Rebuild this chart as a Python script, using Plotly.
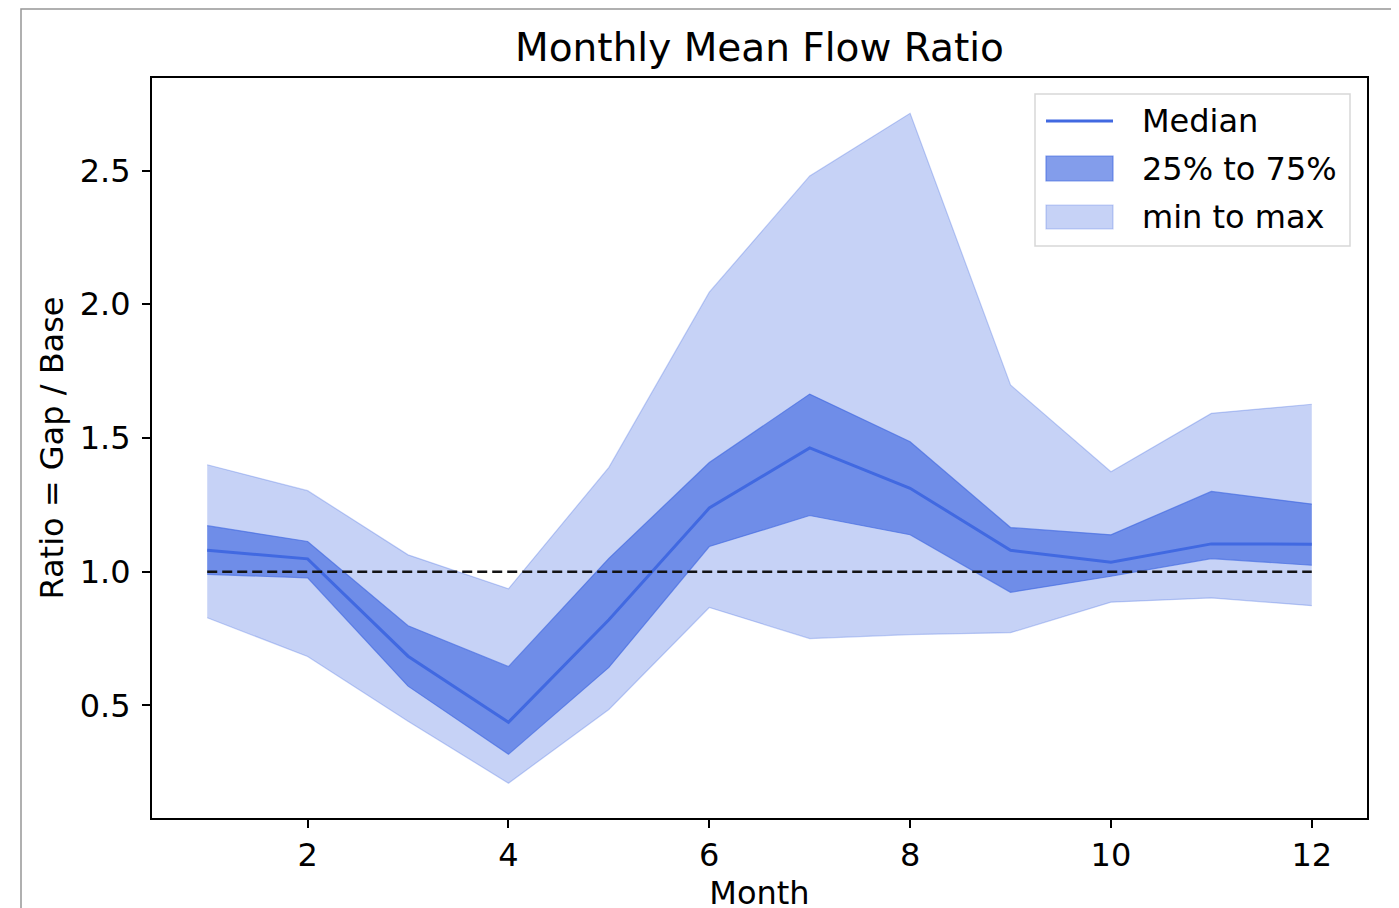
import plotly.graph_objects as go

months = [1, 2, 3, 4, 5, 6, 7, 8, 9, 10, 11, 12]
median = [1.08, 1.048, 0.684, 0.437, 0.82, 1.238, 1.463, 1.312, 1.08, 1.035, 1.104, 1.103]
q25 = [0.99, 0.977, 0.572, 0.317, 0.642, 1.094, 1.21, 1.138, 0.923, 0.983, 1.049, 1.024]
q75 = [1.172, 1.113, 0.798, 0.645, 1.05, 1.408, 1.664, 1.486, 1.165, 1.138, 1.30, 1.253]
vmin = [0.828, 0.683, 0.441, 0.209, 0.485, 0.866, 0.75, 0.765, 0.772, 0.886, 0.902, 0.873]
vmax = [1.40, 1.303, 1.063, 0.936, 1.39, 2.045, 2.48, 2.714, 1.698, 1.374, 1.592, 1.626]
ref_x = [1, 12]
ref_y = [1.0, 1.0]
legend_labels = ["Median", "25% to 75%", "min to max"]

light = "rgba(65,105,225,0.3)"
dark = "rgba(65,105,225,0.65)"
line_c = "rgb(65,105,225)"

fig = go.Figure()
fig.add_trace(go.Scatter(x=months, y=vmin, mode="lines", line=dict(color=light, width=1.2),
                         showlegend=False, hoverinfo="skip"))
fig.add_trace(go.Scatter(x=months, y=vmax, mode="lines", line=dict(color=light, width=1.2),
                         fill="tonexty", fillcolor=light, name=legend_labels[2], showlegend=False))
fig.add_trace(go.Scatter(x=months, y=q25, mode="lines", line=dict(color=dark, width=1.2),
                         showlegend=False, hoverinfo="skip"))
fig.add_trace(go.Scatter(x=months, y=q75, mode="lines", line=dict(color=dark, width=1.2),
                         fill="tonexty", fillcolor=dark, name=legend_labels[1], showlegend=False))
fig.add_trace(go.Scatter(x=months, y=median, mode="lines", line=dict(color=line_c, width=3),
                         name=legend_labels[0], showlegend=False))
fig.add_trace(go.Scatter(x=ref_x, y=ref_y, mode="lines",
                         line=dict(color="rgb(20,20,20)", width=2.5, dash="10px,5px"),
                         showlegend=False))

font_family = "DejaVu Sans"
# page has an 8px body offset; margins compensate so the plot area sits at
# x 152..1367, y 78..818 in the screenshot
OFF = 8
fig.update_layout(
    width=1399, height=908,
    margin=dict(l=152 - OFF, r=32 + OFF, t=78 - OFF, b=90 + OFF, autoexpand=False),
    paper_bgcolor="white", plot_bgcolor="white",
    font=dict(family=font_family, size=32, color="black"),
    showlegend=False,
    title=dict(text="Monthly Mean Flow Ratio", x=0.5, xref="paper", xanchor="center",
               y=1 - (47 - OFF) / 908, yref="container", yanchor="middle",
               font=dict(size=39, family=font_family, color="black")),
    xaxis=dict(range=[0.45, 12.55], tickvals=[2, 4, 6, 8, 10, 12],
               automargin=False,
               showline=True, mirror=True, linecolor="black", linewidth=2,
               ticks="outside", ticklen=8, tickwidth=1.5, tickcolor="black",
               ticklabelstandoff=0,
               showgrid=False, zeroline=False,
               tickfont=dict(size=32, family=font_family),
               title=dict(text="Month", standoff=6, font=dict(size=32, family=font_family))),
    yaxis=dict(range=[0.079, 2.846], tickvals=[0.5, 1.0, 1.5, 2.0, 2.5],
               ticktext=["0.5", "1.0", "1.5", "2.0", "2.5"],
               automargin=False,
               showline=True, mirror=True, linecolor="black", linewidth=2,
               ticks="outside", ticklen=8, tickwidth=1.5, tickcolor="black",
               ticklabelstandoff=5,
               showgrid=False, zeroline=False,
               tickfont=dict(size=32, family=font_family),
               title=dict(text="Ratio = Gap / Base", standoff=7,
                          font=dict(size=32, family=font_family))),
)

W_PLOT, H_PLOT = 1215.0, 740.0


def px(X):
    return (X - 152) / W_PLOT


def py(Y):
    return (818 - Y) / H_PLOT


# outer frame of the original image
fig.add_shape(type="rect", xref="paper", yref="paper",
              x0=px(21), x1=px(1397), y0=py(930), y1=py(9),
              line=dict(color="rgb(150,150,150)", width=1.5), layer="below")

# legend (drawn to match matplotlib style patches)
fig.add_shape(type="rect", xref="paper", yref="paper",
              x0=px(1035), x1=px(1350), y0=py(246), y1=py(94),
              line=dict(color="rgb(215,215,215)", width=1.5),
              fillcolor="rgba(255,255,255,0.85)", layer="above")
fig.add_shape(type="line", xref="paper", yref="paper",
              x0=px(1046), x1=px(1113), y0=py(121), y1=py(121),
              line=dict(color=line_c, width=3), layer="above")
fig.add_shape(type="rect", xref="paper", yref="paper",
              x0=px(1046), x1=px(1113), y0=py(181), y1=py(156),
              line=dict(color=dark, width=1.2), fillcolor=dark, layer="above")
fig.add_shape(type="rect", xref="paper", yref="paper",
              x0=px(1046), x1=px(1113), y0=py(229), y1=py(205),
              line=dict(color=light, width=1.2), fillcolor=light, layer="above")
for lbl, yc in zip(legend_labels, [121, 169, 217]):
    fig.add_annotation(xref="paper", yref="paper", x=px(1140), y=py(yc),
                       text=lbl, showarrow=False, xanchor="left", yanchor="middle",
                       font=dict(size=32, family=font_family, color="black"))

fig.write_html("out.html")
